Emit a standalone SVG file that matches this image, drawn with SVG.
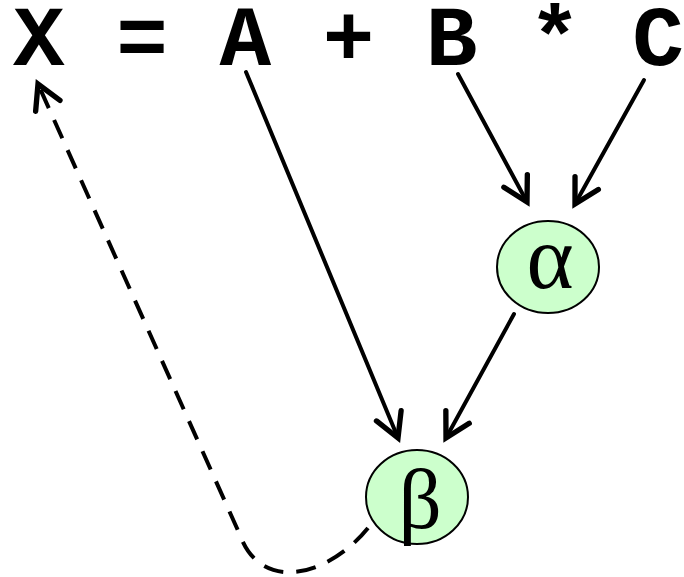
<svg xmlns="http://www.w3.org/2000/svg" width="684" height="577" viewBox="0 0 684 577">
<defs>
<style>
.code{font-family:"Liberation Mono","Courier New",monospace;font-weight:bold;font-size:86px;fill:#000}
.node{fill:#ccffcc;stroke:#000;stroke-width:2}
.greek{font-family:"Liberation Serif","Times New Roman",serif;fill:#000;text-anchor:middle}
.edge{fill:none;stroke:#000;stroke-width:4;stroke-linecap:round;marker-end:url(#ah)}
.dash{stroke-dasharray:20 13;stroke-linecap:butt}
</style>
<marker id="ah" markerUnits="userSpaceOnUse" markerWidth="40" markerHeight="40" viewBox="-25 -15 30 30" refX="0" refY="0" orient="auto">
<path d="M-18,-10 L0,0 L-18,10" fill="none" stroke="#000" stroke-width="4" stroke-linecap="round" stroke-linejoin="miter"/>
</marker>
</defs>
<text class="code" x="13" y="65" xml:space="preserve">X = A + B * C</text>
<g id="edges">
<line class="edge" x1="246" y1="72" x2="398" y2="438"/>
<line class="edge" x1="458" y1="74" x2="527" y2="202"/>
<line class="edge" x1="644" y1="80" x2="575" y2="204"/>
<line class="edge" x1="514" y1="314" x2="446" y2="438"/>
<path class="edge dash" d="M368,528 C330,575 262,595 240,535 L38,84"/>
</g>
<g id="alpha">
<ellipse class="node" cx="548" cy="267" rx="51" ry="46"/>
<text class="greek" x="550" y="288" font-size="90">α</text>
</g>
<g id="beta">
<ellipse class="node" cx="417" cy="497" rx="51" ry="47"/>
<text class="greek" x="420" y="528" font-size="85">β</text>
</g>
</svg>
